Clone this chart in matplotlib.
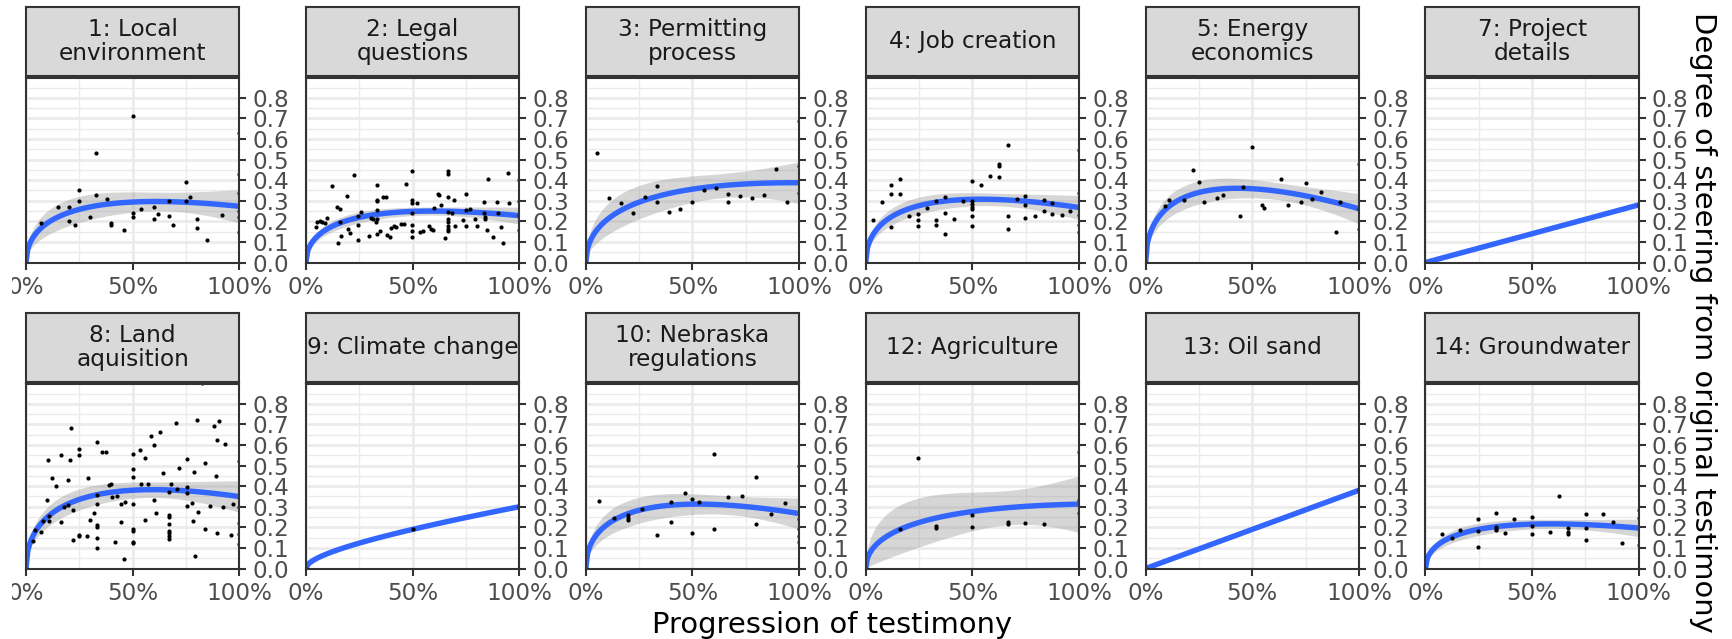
import numpy as np
import matplotlib
matplotlib.use("Agg")
import matplotlib.pyplot as plt
from matplotlib.transforms import Bbox, TransformedBbox

# facet titles, in panel order (2 rows x 6 columns)
titles = ["1: Local\nenvironment", "2: Legal\nquestions", "3: Permitting\nprocess",
          "4: Job creation", "5: Energy\neconomics", "7: Project\ndetails",
          "8: Land\naquisition", "9: Climate change", "10: Nebraska\nregulations",
          "12: Agriculture", "13: Oil sand", "14: Groundwater"]

# (progression, steering) pairs
local_env = [(0, 0), (0.07, 0.19), (0.15, 0.27), (0.20, 0.27), (0.20, 0.20), (0.23, 0.18),
             (0.25, 0.35), (0.25, 0.30), (0.30, 0.22), (0.33, 0.53), (0.33, 0.33),
             (0.38, 0.31), (0.40, 0.19), (0.40, 0.18), (0.46, 0.16), (0.50, 0.71),
             (0.50, 0.24), (0.50, 0.22), (0.54, 0.26), (0.60, 0.27), (0.60, 0.21),
             (0.62, 0.235), (0.67, 0.30), (0.67, 0.225), (0.69, 0.18), (0.75, 0.39),
             (0.75, 0.30), (0.77, 0.32), (0.80, 0.21), (0.80, 0.17), (0.85, 0.11),
             (0.92, 0.23), (1, 0.63), (1, 0.43), (1, 0.34), (1, 0.25), (1, 0.22), (1, 0.15)]

legal = [(0, 0), (0.047, 0.173), (0.05, 0.198), (0.066, 0.20), (0.076, 0.197), (0.09, 0.19),
         (0.10, 0.215), (0.121, 0.37), (0.146, 0.27), (0.16, 0.26), (0.149, 0.097),
         (0.161, 0.198), (0.165, 0.127), (0.194, 0.323), (0.196, 0.161), (0.206, 0.144),
         (0.227, 0.424), (0.246, 0.226), (0.26, 0.247), (0.244, 0.184), (0.244, 0.111),
         (0.296, 0.129), (0.303, 0.218), (0.315, 0.21), (0.328, 0.198), (0.331, 0.379),
         (0.331, 0.306), (0.331, 0.297), (0.331, 0.255), (0.331, 0.21), (0.333, 0.139),
         (0.346, 0.153), (0.362, 0.316), (0.374, 0.316), (0.381, 0.134), (0.395, 0.123),
         (0.40, 0.166), (0.412, 0.177), (0.421, 0.173), (0.445, 0.187), (0.461, 0.187),
         (0.471, 0.381), (0.499, 0.444), (0.499, 0.302), (0.499, 0.29), (0.499, 0.242),
         (0.499, 0.181), (0.499, 0.155), (0.499, 0.124), (0.523, 0.289), (0.537, 0.147),
         (0.551, 0.153), (0.577, 0.177), (0.586, 0.165), (0.598, 0.158), (0.601, 0.265),
         (0.617, 0.335), (0.626, 0.329), (0.633, 0.279), (0.65, 0.119), (0.666, 0.444),
         (0.666, 0.429), (0.666, 0.319), (0.666, 0.247), (0.666, 0.211), (0.666, 0.197),
         (0.666, 0.176), (0.666, 0.165), (0.666, 0.155), (0.683, 0.242), (0.693, 0.306),
         (0.70, 0.177), (0.735, 0.206), (0.749, 0.255), (0.75, 0.332), (0.752, 0.177),
         (0.77, 0.258), (0.792, 0.21), (0.802, 0.176), (0.835, 0.294), (0.835, 0.242),
         (0.839, 0.223), (0.839, 0.211), (0.849, 0.16), (0.853, 0.408), (0.875, 0.126),
         (0.896, 0.292), (0.899, 0.242), (0.917, 0.173), (0.922, 0.095), (0.948, 0.437),
         (0.951, 0.287), (1, 0.40), (1, 0.30), (1, 0.23), (1, 0.16)]

permitting = [(0, 0), (0.052, 0.532), (0.107, 0.311), (0.164, 0.287), (0.221, 0.24),
              (0.277, 0.319), (0.332, 0.371), (0.332, 0.295), (0.388, 0.245), (0.443, 0.258),
              (0.498, 0.294), (0.555, 0.352), (0.611, 0.36), (0.666, 0.335), (0.666, 0.292),
              (0.721, 0.323), (0.777, 0.311), (0.834, 0.327), (0.891, 0.456), (0.945, 0.292),
              (1, 0.69), (1, 0.47), (1, 0.34)]

jobs = [(0, 0), (0.036, 0.208), (0.078, 0.292), (0.12, 0.376), (0.12, 0.334), (0.12, 0.174),
        (0.161, 0.405), (0.161, 0.331), (0.204, 0.224), (0.244, 0.235), (0.244, 0.206),
        (0.244, 0.177), (0.286, 0.263), (0.329, 0.297), (0.329, 0.205), (0.329, 0.184),
        (0.372, 0.318), (0.372, 0.242), (0.372, 0.139), (0.414, 0.211), (0.456, 0.297),
        (0.499, 0.394), (0.499, 0.30), (0.499, 0.284), (0.499, 0.269), (0.499, 0.258),
        (0.499, 0.227), (0.499, 0.177), (0.541, 0.376), (0.582, 0.418), (0.624, 0.477),
        (0.624, 0.471), (0.624, 0.416), (0.666, 0.569), (0.666, 0.224), (0.666, 0.163),
        (0.707, 0.308), (0.749, 0.323), (0.749, 0.277), (0.749, 0.218), (0.792, 0.226),
        (0.834, 0.305), (0.834, 0.248), (0.875, 0.289), (0.875, 0.234), (0.918, 0.231),
        (0.96, 0.25), (1, 0.545), (1, 0.34), (1, 0.23), (1, 0.18), (1, 0.15)]

energy = [(0, 0), (0.09, 0.273), (0.11, 0.305), (0.18, 0.302), (0.221, 0.449), (0.25, 0.391),
          (0.272, 0.294), (0.333, 0.315), (0.362, 0.328), (0.444, 0.228), (0.455, 0.365),
          (0.50, 0.561), (0.547, 0.279), (0.554, 0.263), (0.637, 0.405), (0.667, 0.279),
          (0.73, 0.292), (0.75, 0.386), (0.781, 0.31), (0.82, 0.344), (0.892, 0.15),
          (0.91, 0.296), (1, 0.477), (1, 0.262), (1, 0.165)]

project = [(0, 0), (1, 0.28)]

land = [(0, 0), (0.033, 0.132), (0.041, 0.186), (0.069, 0.178), (0.081, 0.232), (0.097, 0.335),
        (0.105, 0.526), (0.109, 0.256), (0.109, 0.232), (0.123, 0.438), (0.142, 0.403),
        (0.164, 0.225), (0.166, 0.552), (0.177, 0.297), (0.198, 0.431), (0.198, 0.31),
        (0.208, 0.529), (0.213, 0.682), (0.22, 0.139), (0.222, 0.286), (0.248, 0.162),
        (0.25, 0.158), (0.25, 0.583), (0.25, 0.553), (0.284, 0.158), (0.291, 0.438),
        (0.30, 0.235), (0.32, 0.268), (0.331, 0.211), (0.331, 0.202), (0.331, 0.313),
        (0.331, 0.359), (0.333, 0.616), (0.333, 0.15), (0.333, 0.10), (0.356, 0.567),
        (0.377, 0.567), (0.39, 0.407), (0.40, 0.411), (0.403, 0.349), (0.417, 0.127),
        (0.428, 0.353), (0.447, 0.312), (0.447, 0.227), (0.458, 0.045), (0.466, 0.322),
        (0.50, 0.555), (0.50, 0.485), (0.50, 0.444), (0.50, 0.313), (0.50, 0.191),
        (0.50, 0.181), (0.50, 0.131), (0.50, 0.124), (0.533, 0.576), (0.541, 0.411),
        (0.556, 0.535), (0.556, 0.235), (0.572, 0.41), (0.584, 0.643), (0.598, 0.331),
        (0.602, 0.602), (0.609, 0.269), (0.627, 0.663), (0.644, 0.465), (0.669, 0.371),
        (0.669, 0.261), (0.669, 0.25), (0.669, 0.217), (0.669, 0.184), (0.669, 0.171),
        (0.669, 0.157), (0.669, 0.142), (0.681, 0.411), (0.703, 0.705), (0.709, 0.387),
        (0.717, 0.487), (0.753, 0.532), (0.753, 0.395), (0.753, 0.366), (0.753, 0.302),
        (0.78, 0.32), (0.781, 0.233), (0.789, 0.467), (0.794, 0.06), (0.803, 0.72),
        (0.805, 0.276), (0.823, 0.90), (0.838, 0.514), (0.838, 0.191), (0.861, 0.305),
        (0.88, 0.694), (0.891, 0.449), (0.897, 0.622), (0.905, 0.717), (0.894, 0.171),
        (0.922, 0.297), (0.933, 0.607), (0.961, 0.162), (0.969, 0.315),
        (1, 0.52), (1, 0.30), (1, 0.22), (1, 0.17), (1, 0.12)]

climate = [(0, 0), (0.5, 0.19), (1, 0.30)]

nebraska = [(0, 0), (0.064, 0.329), (0.13, 0.247), (0.196, 0.258), (0.196, 0.245),
            (0.196, 0.237), (0.265, 0.289), (0.332, 0.163), (0.398, 0.323), (0.398, 0.226),
            (0.465, 0.366), (0.498, 0.34), (0.498, 0.174), (0.531, 0.323), (0.599, 0.558),
            (0.599, 0.194), (0.666, 0.348), (0.732, 0.35), (0.799, 0.445), (0.799, 0.216),
            (0.867, 0.263), (0.933, 0.319), (1, 0.50), (1, 0.24), (1, 0.19), (1, 0.16),
            (1, 0.13)]

agriculture = [(0, 0), (0.161, 0.192), (0.244, 0.539), (0.329, 0.206), (0.329, 0.197),
               (0.499, 0.258), (0.499, 0.20), (0.666, 0.227), (0.666, 0.216), (0.749, 0.223),
               (0.834, 0.216), (1, 0.565), (1, 0.335), (1, 0.27)]

oil_sand = [(0, 0), (1, 0.38)]

groundwater = [(0, 0), (0.078, 0.166), (0.122, 0.148), (0.163, 0.187), (0.247, 0.239),
               (0.247, 0.182), (0.247, 0.104), (0.331, 0.268), (0.331, 0.203), (0.331, 0.193),
               (0.331, 0.185), (0.373, 0.172), (0.416, 0.241), (0.5, 0.25), (0.5, 0.208),
               (0.5, 0.169), (0.583, 0.177), (0.627, 0.353), (0.666, 0.197), (0.666, 0.176),
               (0.666, 0.169), (0.752, 0.265), (0.752, 0.195), (0.752, 0.138), (0.834, 0.265),
               (0.877, 0.224), (0.919, 0.125), (1, 0.285), (1, 0.244), (1, 0.114)]

panels = [local_env, legal, permitting, jobs, energy, project,
          land, climate, nebraska, agriculture, oil_sand, groundwater]


def t_quantile(df, z=1.959964):
    # Cornish-Fisher approximation of qt(0.975, df)
    return (z + (z**3 + z) / (4 * df) + (5 * z**5 + 16 * z**3 + 3 * z) / (96 * df**2)
            + (3 * z**7 + 19 * z**5 + 17 * z**3 - 15 * z) / (384 * df**3))


def smooth(xs, ys):
    # lm(y ~ 0 + x + sqrt(x)), like geom_smooth(method = "lm")
    cols = [lambda v: v, np.sqrt]
    if len(np.unique(xs[xs > 0])) < 2:
        cols = cols[:1]
    X = np.column_stack([f(xs) for f in cols])
    beta = np.linalg.lstsq(X, ys, rcond=None)[0]
    grid = np.linspace(xs.min(), xs.max(), 120)
    G = np.column_stack([f(grid) for f in cols])
    fit = G @ beta
    df = len(xs) - X.shape[1]
    se = None
    if df > 0:
        sigma2 = np.sum((ys - X @ beta) ** 2) / df
        cov = sigma2 * np.linalg.inv(X.T @ X)
        se = np.sqrt(np.sum((G @ cov) * G, axis=1)) * t_quantile(df)
    return grid, fit, se


W, H = 1733, 639
fig = plt.figure(figsize=(W / 100, H / 100), dpi=100)

pan_w = 213.3
col_step = 279.9
pan_h = 184.6
strip_h = 68.6
row_top = [7.3, 313.3]
dark = "#333333"

for i, (title, pts) in enumerate(zip(titles, panels)):
    r, c = divmod(i, 6)
    left = 26 + c * col_step
    strip_top = row_top[r]
    pan_top = strip_top + strip_h + 2
    ax = fig.add_axes([left / W, 1 - (pan_top + pan_h) / H, pan_w / W, pan_h / H])
    sax = fig.add_axes([left / W, 1 - (strip_top + strip_h) / H, pan_w / W, strip_h / H])

    xs = np.array([p[0] for p in pts], dtype=float)
    ys = np.array([p[1] for p in pts], dtype=float)
    grid, fit, se = smooth(xs, ys)
    if se is not None and se.max() > 1e-9:
        ax.fill_between(grid, fit - se, fit + se, color="#999999", alpha=0.4, lw=0, zorder=2)
    ax.plot(grid, fit, color="#3366FF", lw=3.9, zorder=3, solid_capstyle="butt")
    ax.scatter(xs, ys, s=9, color="black", lw=0, zorder=4)

    ax.set_xlim(0, 1)
    ax.set_ylim(0, 0.897)
    ax.set_xticks([0, 0.5, 1])
    ax.set_xticklabels(["0%", "50%", "100%"])
    ax.set_xticks([0.25, 0.75], minor=True)
    ax.set_yticks(np.arange(0, 0.85, 0.1))
    ax.set_yticklabels(["%.1f" % v for v in np.arange(0, 0.85, 0.1)])
    ax.set_yticks(np.arange(0.05, 0.9, 0.1), minor=True)
    ax.yaxis.tick_right()
    ax.grid(True, which="major", color="#EBEBEB", lw=1.95, zorder=0)
    ax.grid(True, which="minor", color="#EBEBEB", lw=0.97, zorder=0)
    ax.set_axisbelow(True)
    ax.tick_params(which="major", length=5.25, width=1.5, color=dark, pad=4.2,
                   labelsize=16.7, labelcolor="#4D4D4D")
    ax.tick_params(which="minor", length=0)
    for sp in ax.spines.values():
        sp.set_color(dark)
        sp.set_linewidth(1.5)
        sp.set_zorder(5)

    sax.set_facecolor("#D9D9D9")
    sax.set_xticks([])
    sax.set_yticks([])
    for sp in sax.spines.values():
        sp.set_color(dark)
        sp.set_linewidth(1.5)
    sax.text(0.5, 0.5, title, ha="center", va="center", fontsize=16.7,
             color="#1A1A1A", linespacing=1.1, transform=sax.transAxes, clip_on=True)

    if c == 0:
        # the first "0%" label is cut off at the left edge in the original
        lab = ax.xaxis.get_major_ticks()[0].label1
        lab.set_clip_on(True)
        lab.set_clip_box(TransformedBbox(Bbox.from_extents(11.7 / W, 0, 1, 1), fig.transFigure))

fig.text(832 / W, 1 - 633 / H, "Progression of testimony", ha="center", va="baseline",
         fontsize=20.9, color="black")
fig.text(1703 / W, 1 - 322 / H, "Degree of steering from original testimony", ha="center",
         va="center", rotation=270, fontsize=20.9, color="black")

fig.savefig("out.png", dpi=100)
